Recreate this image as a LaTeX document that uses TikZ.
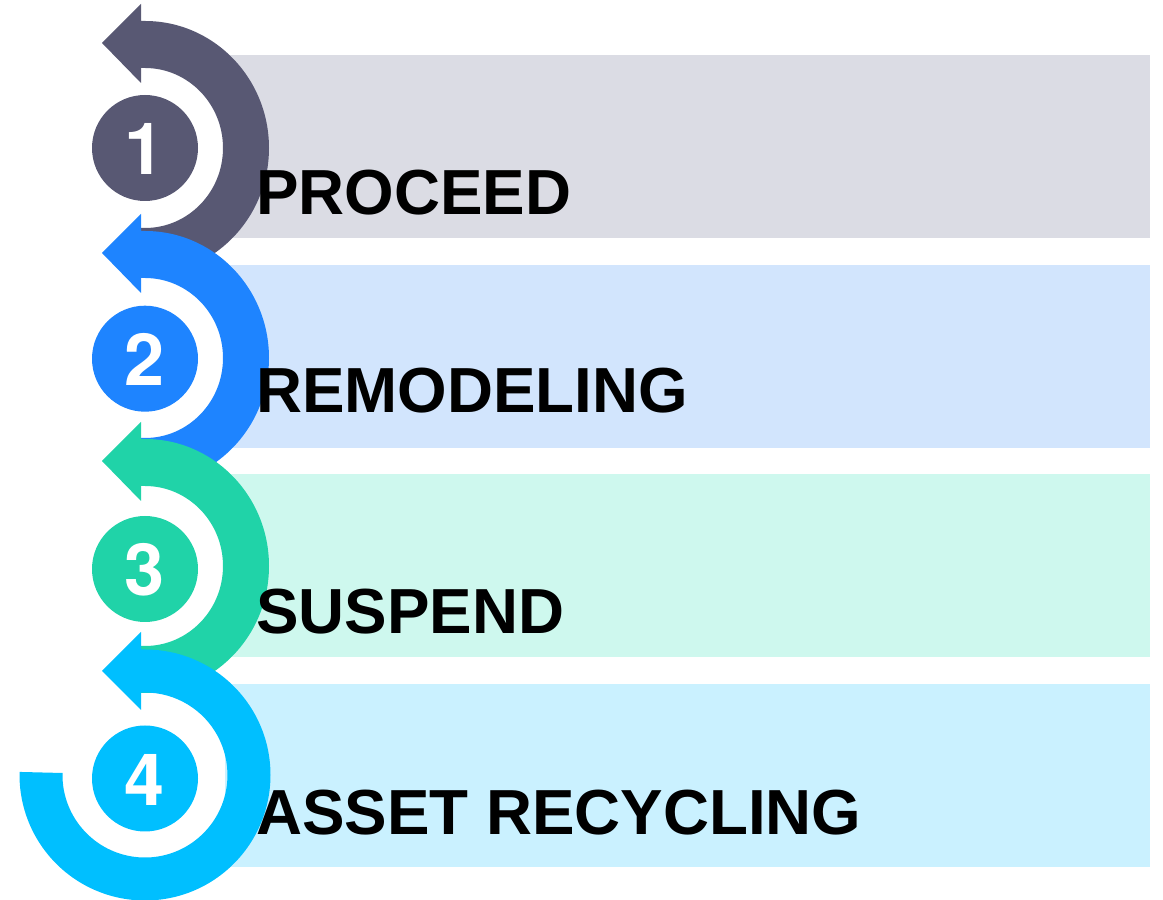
\documentclass[tikz,border=0pt]{standalone}
\usepackage{fontspec}
\setmainfont{Liberation Sans}
\newfontfamily\digitfont{TeX Gyre Heros}
\definecolor{slatec}{HTML}{585873}
\definecolor{bluec}{HTML}{1E84FF}
\definecolor{greenc}{HTML}{20D3A8}
\definecolor{cyanc}{HTML}{00BFFF}
\definecolor{slateb}{HTML}{DBDCE4}
\definecolor{blueb}{HTML}{D2E5FD}
\definecolor{greenb}{HTML}{CEF8EE}
\definecolor{cyanb}{HTML}{CAF1FF}
\tikzset{
    band/.style={
           draw=none,
           },
    ringarrow/.pic={
           \fill (-4,127) -- (0,127) arc[start angle=90,end angle=-90,x radius=124,y radius=127]
                 -- (-4,-127) -- (-4,-80) -- (0,-80)
                 arc[start angle=-90,end angle=90,x radius=78,y radius=80]
                 -- (-4,80) -- (-4,65) -- (-43,105) -- (-4,144) -- cycle;
           },
    numdisc/.style={
           circle,
           minimum size=106pt,
           inner sep=0pt,
           text=white,
           text height=54pt,
           text depth=0pt,
           font=\digitfont\bfseries\fontsize{72}{72}\selectfont,
           },
    steptext/.style={
           anchor=base west,
           inner sep=0pt,
           text=black,
           font=\bfseries\fontsize{63.7}{70}\selectfont,
           },
}

\begin{document}
\begin{tikzpicture}[x=1pt,y=1pt]
	\useasboundingbox (0,0) rectangle (1163,900);

	\fill[band,slateb] (225,845) rectangle (1150,662);
	\fill[band,blueb]  (225,635) rectangle (1150,452);
	\fill[band,greenb] (225,426) rectangle (1150,243);
	\fill[band,cyanb]  (225,216) rectangle (1150,33);

	\pic[slatec] at (145,752) {ringarrow};
	\pic[bluec]  at (145,542) {ringarrow};
	\pic[greenc] at (145,334) {ringarrow};

	% last arrow runs on round to the left side
	\fill[cyanc] (141,250.5) -- (145,250.5)
		arc[start angle=90,end angle=-181.4,radius=125.5]
		-- (62.5,127)
		arc[start angle=-181.4,end angle=90,radius=82.5]
		-- (141,207.5) -- (141,190) -- (102,229) -- (141,268) -- cycle;

	\node[numdisc,fill=slatec] (N1) at (145,752) {1};
	\node[numdisc,fill=bluec]  (N2) at (145,541.3) {2};
	\node[numdisc,fill=greenc] (N3) at (145,331) {3};
	\node[numdisc,fill=cyanc]  (N4) at (145,121.5) {4};

	\node[steptext] (T1) at (256,685) {PROCEED};
	\node[steptext] (T2) at (256,487) {REMODELING};
	\node[steptext] (T3) at (256,266) {SUSPEND};
	\node[steptext] (T4) at (256,65)  {ASSET RECYCLING};
\end{tikzpicture}
\end{document}
